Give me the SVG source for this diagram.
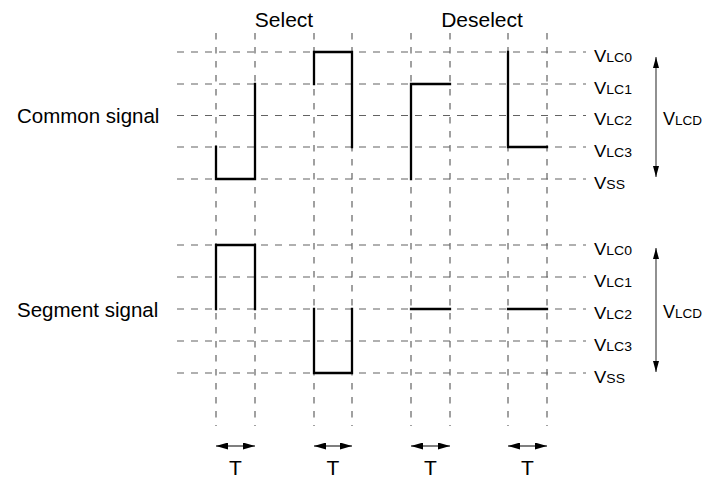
<svg xmlns="http://www.w3.org/2000/svg" width="707" height="480" viewBox="0 0 707 480">
<style>
.grid{stroke:#626262;stroke-width:1.2;fill:none}
.h{stroke-dasharray:7 7}
.v{stroke-dasharray:6.5 7.5}
.wave{stroke:#000;stroke-width:2.3;fill:none;stroke-linejoin:miter;stroke-linecap:square}
.t{font-family:"Liberation Sans",Arial,sans-serif;fill:#000}
.big{font-size:21px}
.sig{font-size:20.5px}
.vl{font-size:16.5px}
.sub{font-size:12.5px}
.vd{font-size:18px}
.subd{font-size:13.5px}
.dim{stroke:#555;stroke-width:1.3;fill:none}
</style>
<defs>
<marker id="ah" viewBox="0 0 11 6" refX="11" refY="3" markerWidth="11" markerHeight="6" markerUnits="userSpaceOnUse" orient="auto-start-reverse">
<path d="M0,0 L11,3 L0,6 Z" fill="#000"/>
</marker>
<marker id="ahs" viewBox="0 0 12 7" refX="12" refY="3.5" markerWidth="12" markerHeight="7" markerUnits="userSpaceOnUse" orient="auto-start-reverse">
<path d="M0,0 L12,3.5 L0,7 Z" fill="#000"/>
</marker>
</defs>
<g id="grid">
<g class="grid h">
<line x1="177" y1="52" x2="586" y2="52"/>
<line x1="177" y1="84" x2="586" y2="84"/>
<line x1="177" y1="115.5" x2="586" y2="115.5"/>
<line x1="177" y1="147" x2="586" y2="147"/>
<line x1="177" y1="179" x2="586" y2="179"/>
<line x1="177" y1="245" x2="586" y2="245"/>
<line x1="177" y1="277" x2="586" y2="277"/>
<line x1="177" y1="309" x2="586" y2="309"/>
<line x1="177" y1="341" x2="586" y2="341"/>
<line x1="177" y1="373" x2="586" y2="373"/>
</g>
<g class="grid v">
<line x1="216" y1="33" x2="216" y2="426"/>
<line x1="255" y1="33" x2="255" y2="426"/>
<line x1="314" y1="33" x2="314" y2="426"/>
<line x1="352" y1="33" x2="352" y2="426"/>
<line x1="411" y1="33" x2="411" y2="426"/>
<line x1="450" y1="33" x2="450" y2="426"/>
<line x1="508" y1="33" x2="508" y2="426"/>
<line x1="547" y1="33" x2="547" y2="426"/>
</g>
</g>
<g id="common-waveform" class="wave">
<path d="M216,147 V179 H255 V84"/>
<path d="M314,84 V52 H352 V147"/>
<path d="M411,179 V84 H450"/>
<path d="M508,52 V147 H547"/>
</g>
<g id="segment-waveform" class="wave">
<path d="M216,309 V245 H255 V309"/>
<path d="M314,309 V373 H352 V309"/>
<path d="M411,309 H450"/>
<path d="M508,309 H547"/>
</g>
<g id="connectors">
<line class="dim" x1="656" y1="57" x2="656" y2="177" marker-start="url(#ah)" marker-end="url(#ah)"/>
<line class="dim" x1="656" y1="248" x2="656" y2="372" marker-start="url(#ah)" marker-end="url(#ah)"/>
<line class="dim" x1="216" y1="446" x2="255" y2="446" marker-start="url(#ahs)" marker-end="url(#ahs)"/>
<line class="dim" x1="314" y1="446" x2="352" y2="446" marker-start="url(#ahs)" marker-end="url(#ahs)"/>
<line class="dim" x1="411" y1="446" x2="450" y2="446" marker-start="url(#ahs)" marker-end="url(#ahs)"/>
<line class="dim" x1="508" y1="446" x2="547" y2="446" marker-start="url(#ahs)" marker-end="url(#ahs)"/>
</g>
<g id="titles" class="t big" text-anchor="middle">
<text x="284" y="26.5">Select</text>
<text x="482" y="26.5">Deselect</text>
<text x="235.5" y="475">T</text>
<text x="333" y="475">T</text>
<text x="430.5" y="475">T</text>
<text x="527.5" y="475">T</text>
</g>
<g id="signal-labels" class="t sig">
<text x="17" y="122.5">Common signal</text>
<text x="17" y="316.5">Segment signal</text>
</g>
<g id="level-labels-common" class="t">
<text transform="translate(594,61.5) scale(1.12,1)"><tspan class="vl">V</tspan><tspan class="sub">LC0</tspan></text>
<text transform="translate(594,93.5) scale(1.12,1)"><tspan class="vl">V</tspan><tspan class="sub">LC1</tspan></text>
<text transform="translate(594,125) scale(1.12,1)"><tspan class="vl">V</tspan><tspan class="sub">LC2</tspan></text>
<text transform="translate(594,156.5) scale(1.12,1)"><tspan class="vl">V</tspan><tspan class="sub">LC3</tspan></text>
<text transform="translate(594,188.5) scale(1.12,1)"><tspan class="vl">V</tspan><tspan class="sub">SS</tspan></text>
<text x="663" y="124.5"><tspan class="vd">V</tspan><tspan class="subd">LCD</tspan></text>
</g>
<g id="level-labels-segment" class="t">
<text transform="translate(594,254.5) scale(1.12,1)"><tspan class="vl">V</tspan><tspan class="sub">LC0</tspan></text>
<text transform="translate(594,286.5) scale(1.12,1)"><tspan class="vl">V</tspan><tspan class="sub">LC1</tspan></text>
<text transform="translate(594,318.5) scale(1.12,1)"><tspan class="vl">V</tspan><tspan class="sub">LC2</tspan></text>
<text transform="translate(594,350.5) scale(1.12,1)"><tspan class="vl">V</tspan><tspan class="sub">LC3</tspan></text>
<text transform="translate(594,382.5) scale(1.12,1)"><tspan class="vl">V</tspan><tspan class="sub">SS</tspan></text>
<text x="663" y="317.5"><tspan class="vd">V</tspan><tspan class="subd">LCD</tspan></text>
</g>
</svg>
